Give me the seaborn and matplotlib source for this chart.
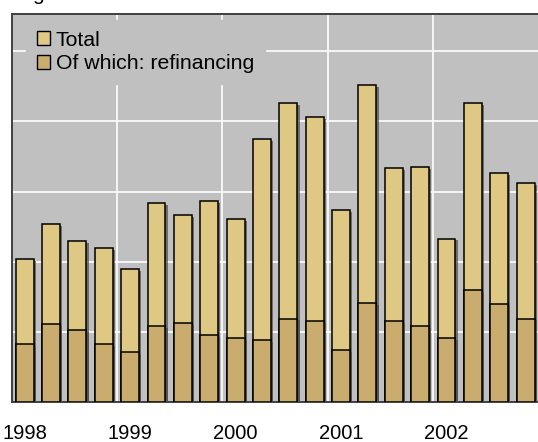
import matplotlib
matplotlib.use("Agg")
import matplotlib.pyplot as plt
import matplotlib.patheffects as pe
from matplotlib.patches import Patch
import pandas as pd
import seaborn as sns

# Quarterly issuance, 1998 Q1 - 2002 Q4
years = ["1998", "1999", "2000", "2001", "2002"]
quarters = ["Q1", "Q2", "Q3", "Q4"]
total = [20.4, 25.3, 23.0, 21.9, 19.0, 28.4, 26.7, 28.7, 26.1, 37.5,
         42.6, 40.6, 27.3, 45.2, 33.3, 33.5, 23.3, 42.6, 32.7, 31.2]
refinancing = [8.3, 11.1, 10.2, 8.2, 7.1, 10.8, 11.3, 9.6, 9.1, 8.8,
               11.9, 11.6, 7.4, 14.1, 11.6, 10.8, 9.1, 16.0, 13.9, 11.9]

periods = [f"{y}{q}" for y in years for q in quarters]
df = pd.DataFrame({"period": periods, "total": total, "refinancing": refinancing})

c_total = "#DFC883"
c_refi = "#C9AC6E"
bg = "#C0C0C0"
spine = "#404040"

sns.set_theme(style="white")
plt.rcParams["font.family"] = ["Liberation Sans", "DejaVu Sans"]
plt.rcParams["text.color"] = "black"
plt.rcParams["xtick.color"] = "black"

fig = plt.figure(figsize=(5.38, 4.42), dpi=100)
ax = fig.add_axes([12 / 538, 40 / 442, 526 / 538, 388 / 442])
ax.set_facecolor(bg)

bar_kw = dict(width=0.68, edgecolor="black", linewidth=1.1, ax=ax, zorder=3)
sns.barplot(data=df, x="period", y="total", color=c_total, saturation=1, **bar_kw)
sns.barplot(data=df, x="period", y="refinancing", color=c_refi, saturation=1, **bar_kw)

shadow = [pe.SimplePatchShadow(offset=(1.6, -1.4), shadow_rgbFace="#4a4a4a", alpha=0.7),
          pe.Normal()]
for p in ax.patches:
    p.set_path_effects(shadow)

ax.set_xlim(-0.48, 19.47)
ax.set_ylim(0, 55.3)

# white grid: horizontal steps, vertical lines between years
ax.set_yticks([10, 20, 30, 40, 50])
ax.set_yticklabels([])
ax.set_xticks([0, 4, 8, 12, 16])
ax.set_xticklabels(years, fontsize=14.5, color="black")
ax.set_xticks([3.5, 7.5, 11.5, 15.5], minor=True)
ax.grid(axis="y", which="major", color="white", linewidth=1.2, zorder=1)
ax.grid(axis="x", which="minor", color="white", linewidth=1.2, zorder=1)
ax.grid(axis="x", which="major", visible=False)
ax.set_axisbelow(True)
ax.tick_params(axis="both", which="both", length=0)
ax.tick_params(axis="x", pad=16)
ax.set_xlabel("")
ax.set_ylabel("")

for side in ["left", "top", "bottom"]:
    ax.spines[side].set_color(spine)
    ax.spines[side].set_linewidth(1.4)
ax.spines["right"].set_visible(False)

handles = [Patch(facecolor=c_total, edgecolor="black", linewidth=1.0, label="Total"),
           Patch(facecolor=c_refi, edgecolor="black", linewidth=1.0, label="Of which: refinancing")]
leg = ax.legend(handles=handles, loc="upper left", bbox_to_anchor=(14 / 526, 1 - 6 / 388),
                borderaxespad=0, fontsize=15.3, frameon=True, facecolor=bg, edgecolor=bg,
                framealpha=1, fancybox=False, handlelength=0.65, handleheight=0.65,
                handletextpad=0.25, labelspacing=0.22, borderpad=0.5)
for t in leg.get_texts():
    t.set_color("black")
leg.set_zorder(5)

fig.text(32 / 538, 1.0, "g", fontsize=15, ha="left", va="baseline", color="black")

fig.savefig("out.png", dpi=100)
